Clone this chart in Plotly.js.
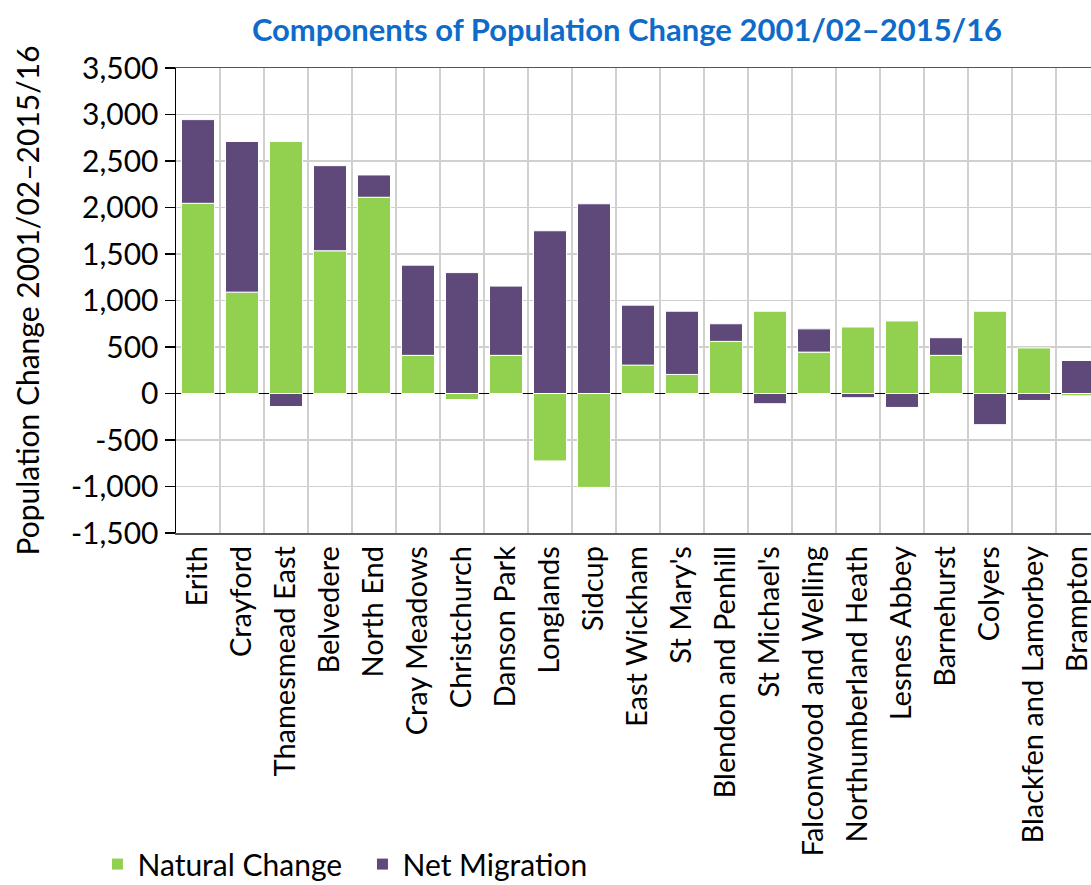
<!DOCTYPE html>
<html>
<head>
<meta charset="utf-8">
<script src="https://cdn.plot.ly/plotly-3.0.1.min.js"></script>
<style>
html, body { margin: 0; padding: 0; overflow: hidden; background: #fff; }
#chart { width: 1110px; height: 885px; }
</style>
</head>
<body>
<div id="chart"></div>
<script>
const wards = ["Erith", "Crayford", "Thamesmead East", "Belvedere", "North End", "Cray Meadows",
  "Christchurch", "Danson Park", "Longlands", "Sidcup", "East Wickham", "St Mary's",
  "Blendon and Penhill", "St Michael's", "Falconwood and Welling", "Northumberland Heath",
  "Lesnes Abbey", "Barnehurst", "Colyers", "Blackfen and Lamorbey", "Brampton"];
const naturalChange = [2045, 1090, 2710, 1535, 2110, 410, -65, 410, -725, -1010, 305, 205,
  560, 885, 445, 715, 780, 410, 885, 490, -25];
const netMigration = [900, 1620, -140, 915, 240, 970, 1300, 745, 1750, 2040, 645, 680,
  190, -110, 250, -45, -150, 190, -335, -75, 355];
const yTickVals = [-1500, -1000, -500, 0, 500, 1000, 1500, 2000, 2500, 3000, 3500];
const yTickText = ["-1,500", "-1,000", "-500", "0", "500", "1,000", "1,500", "2,000", "2,500", "3,000", "3,500"];

const font = "Lato, 'Open Sans', sans-serif";
const traces = [
  { type: "bar", name: "Natural Change", x: wards, y: naturalChange,
    marker: { color: "#92D050", line: { color: "#ffffff", width: 1 } }, width: 0.75 },
  { type: "bar", name: "Net Migration", x: wards, y: netMigration,
    marker: { color: "#5F497A", line: { color: "#ffffff", width: 1 } }, width: 0.75 }
];
const layout = {
  width: 1110, height: 885,
  margin: { l: 176, r: 10, t: 68, b: 352, autoexpand: false },
  paper_bgcolor: "#ffffff", plot_bgcolor: "#ffffff",
  barmode: "relative",
  title: { text: "<b>Components of Population Change 2001/02–2015/16</b>",
    font: { family: font, size: 31, color: "#0E6BC9" },
    x: 627 / 1110, xanchor: "center", y: 1 - 30 / 885, yanchor: "middle" },
  xaxis: {
    type: "category", tickson: "boundaries", showgrid: true, gridcolor: "#d0d0d0", gridwidth: 1.5,
    tickangle: -90, ticks: "", tickfont: { family: font, size: 29, color: "#000" },
    showline: true, linecolor: "#555", linewidth: 1.5, mirror: true, fixedrange: true,
    automargin: false
  },
  yaxis: {
    range: [-1500, 3500], tickvals: yTickVals, ticktext: yTickText,
    showgrid: true, gridcolor: "#d0d0d0", gridwidth: 1.5,
    zeroline: true, zerolinecolor: "#000", zerolinewidth: 1.5,
    showline: true, linecolor: "#000", linewidth: 1.5,
    ticks: "outside", ticklen: 10, tickcolor: "#000", tickwidth: 1.5,
    tickfont: { family: font, size: 30, color: "#000" },
    title: { text: "Population Change 2001/02–2015/16", font: { family: font, size: 30, color: "#000" }, standoff: 22 },
    fixedrange: true, automargin: false
  },
  showlegend: true,
  legend: { orientation: "h", x: -0.085, xanchor: "left", y: -0.712, yanchor: "middle",
    font: { family: font, size: 30, color: "#000" }, traceorder: "normal", itemwidth: 30,
    entrywidth: 220 },
  bargap: 0.25
};
Plotly.newPlot("chart", traces, layout, { displayModeBar: false, staticPlot: true });
</script>
</body>
</html>
